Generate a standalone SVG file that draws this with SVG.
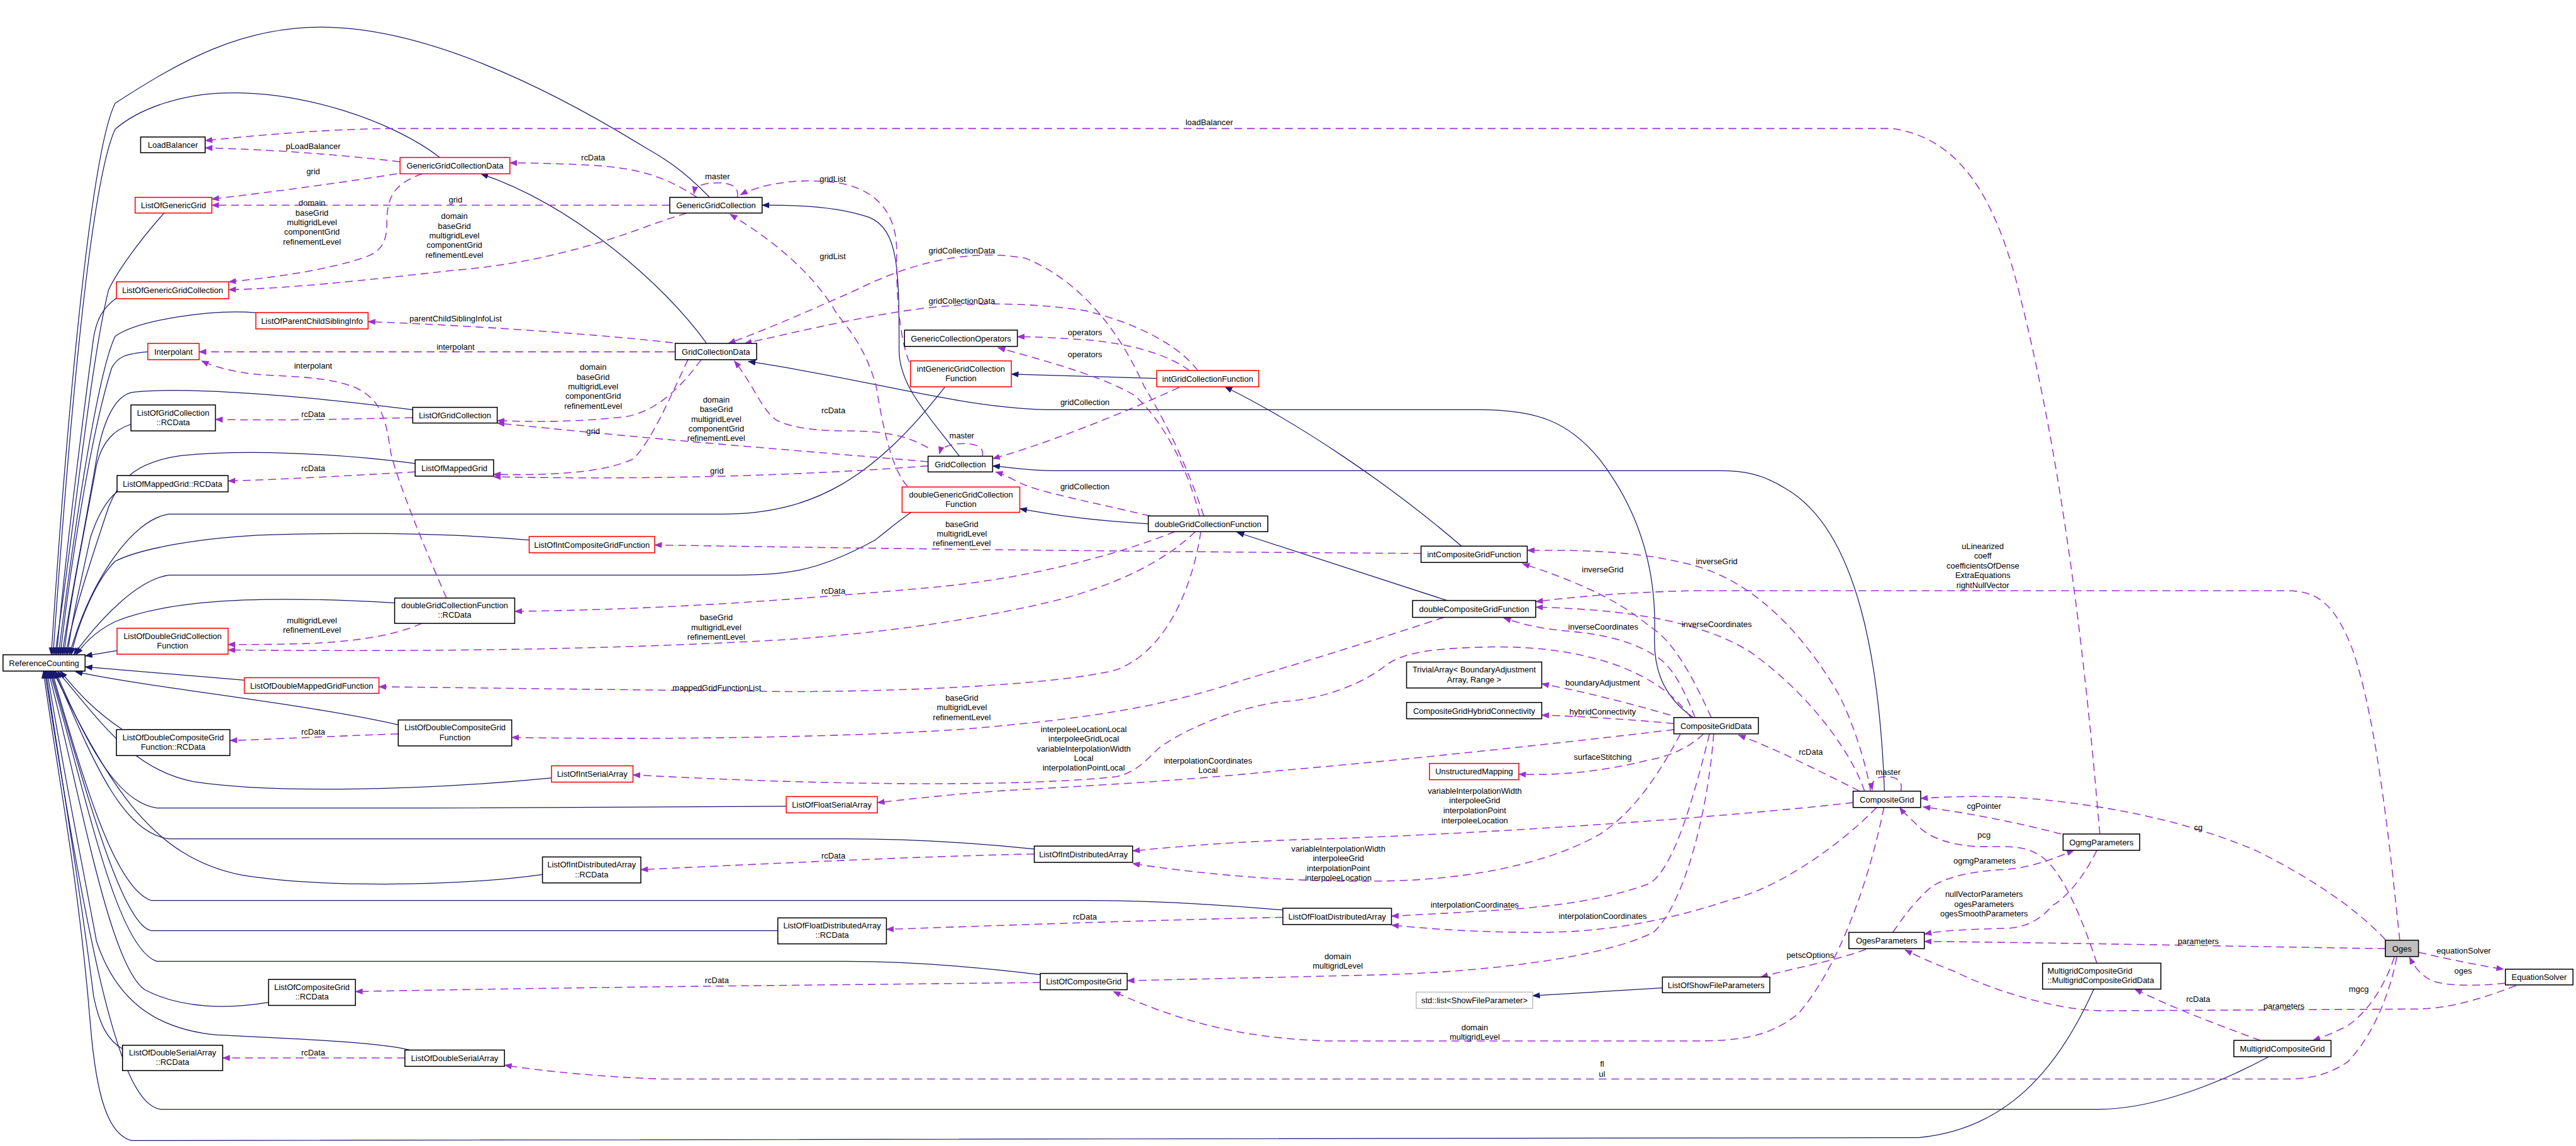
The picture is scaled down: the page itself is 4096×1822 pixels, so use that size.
<svg xmlns="http://www.w3.org/2000/svg" width="4096" height="1822" viewBox="0 0 4096 1822">
<defs>
<marker id="an" markerWidth="13" markerHeight="10" refX="12" refY="5" orient="auto" markerUnits="userSpaceOnUse"><path d="M0,0 L13,5 L0,10 z" fill="#191970"/></marker>
<marker id="ap" markerWidth="13" markerHeight="10" refX="12" refY="5" orient="auto" markerUnits="userSpaceOnUse"><path d="M0,0 L13,5 L0,10 z" fill="#9a32cd"/></marker>
<style>
.n rect{fill:#fff;stroke:#000;stroke-width:1.6}
.r rect{stroke:#ff0000}
.gy rect{stroke:#bfbfbf}
.o rect{fill:#bfbfbf}
text{font-family:"Liberation Sans",Arial,sans-serif;font-size:13.5px;fill:#000}
.n text{text-anchor:middle}
.lab text{text-anchor:middle}
.e{fill:none;stroke:#191970;stroke-width:1.3;marker-end:url(#an)}
.d{fill:none;stroke:#9a32cd;stroke-width:1.6;stroke-dasharray:13,8;marker-end:url(#ap)}
</style>
</defs>
<rect width="4096" height="1822" fill="#fff"/>
<g transform="scale(0.95947)">
<g id="connectors">
<path class="e" d="M1176,327 C1130,280 1100,262 1070,245 C900,140 700,45 532,45 C400,45 300,100 191,171 C150,250 110,700 85,1085"/>
<path class="e" d="M729,261 C650,200 500,150 372,154 C300,156 230,180 191,214 C150,300 115,700 88,1085"/>
<path class="e" d="M272,353 C230,400 195,449 180,480 C150,600 120,900 91,1085"/>
<path class="e" d="M193,494 C170,510 160,530 155,560 C130,750 105,950 94,1085"/>
<path class="e" d="M424,518 C350,512 230,530 191,557 C160,620 120,900 97,1085"/>
<path class="e" d="M245,583 C210,586 195,590 185,610 C150,720 115,950 100,1085"/>
<path class="e" d="M684,679 C500,655 300,640 220,650 C190,655 170,700 160,760 C140,880 115,1000 103,1085"/>
<path class="e" d="M217,703 C190,712 170,730 160,770 C140,880 115,1000 106,1085"/>
<path class="e" d="M688,768 C550,750 400,745 300,755 C230,765 200,790 180,840 C150,930 120,1020 109,1085"/>
<path class="e" d="M194,815 C175,830 160,860 150,890 C135,960 118,1030 112,1085"/>
<path class="e" d="M1566,641 C1450,790 1350,852 1196,852 L280,852 C220,860 150,960 115,1085"/>
<path class="e" d="M877,895 C750,884 600,882 450,886 C330,890 230,910 191,930 C160,960 130,1030 118,1085"/>
<path class="e" d="M1510,849 C1480,870 1470,880 1450,895 C1350,950 1300,953 1200,953 L280,953 C230,960 170,1020 122,1085"/>
<path class="e" d="M654,999 C500,990 300,985 191,1030 C160,1045 140,1065 126,1085"/>
<path class="e" d="M194,1078 L141,1087"/>
<path class="e" d="M405,1127 L141,1105"/>
<path class="e" d="M660,1201 C500,1165 250,1140 125,1113"/>
<path class="e" d="M203,1209 C160,1180 130,1150 100,1112"/>
<path class="e" d="M914,1289 C700,1310 450,1315 320,1295 C220,1275 170,1200 95,1112"/>
<path class="e" d="M1303,1336 L700,1339 L260,1339 C200,1330 150,1250 92,1112"/>
<path class="e" d="M1714,1407 C1600,1395 1500,1390 1400,1390 L280,1390 C200,1380 150,1250 90,1112"/>
<path class="e" d="M899,1449 C750,1470 520,1470 400,1450 C250,1420 180,1300 88,1112"/>
<path class="e" d="M2126,1508 C2000,1497 1900,1492 1800,1492 L250,1492 C190,1470 140,1300 86,1112"/>
<path class="e" d="M1289,1542 L250,1542 C200,1530 140,1300 84,1112"/>
<path class="e" d="M1724,1615 C1600,1600 1500,1593 1400,1593 L260,1593 C190,1570 140,1300 82,1112"/>
<path class="e" d="M445,1661 C380,1672 300,1672 240,1640 C180,1600 130,1300 80,1112"/>
<path class="e" d="M679,1740 C620,1725 450,1720 360,1715 C250,1705 190,1650 160,1560 C130,1400 100,1250 78,1112"/>
<path class="e" d="M203,1738 C180,1725 165,1700 155,1650 C130,1450 95,1250 76,1112"/>
<path class="e" d="M3760,1751 C3650,1810 3550,1838 3479,1838 L266,1838 C200,1830 150,1600 74,1112"/>
<path class="e" d="M3470,1639 C3420,1750 3340,1870 3180,1885 L218,1890 C180,1880 160,1820 150,1700 C130,1450 90,1250 72,1112"/>
<path class="e" d="M1590,756 C1540,690 1490,640 1490,580 C1490,450 1490,380 1440,360 C1380,340 1310,340 1263,340"/>
<path class="e" d="M1171,569 C1100,470 950,340 797,288"/>
<path class="e" d="M2806,1189 C2750,1150 2740,1100 2742,1050 C2745,950 2720,850 2650,760 C2600,700 2550,679 2450,679 L1750,679 C1600,679 1450,630 1240,599"/>
<path class="e" d="M3123,1311 C3115,1100 3080,880 2960,810 C2920,785 2890,780 2850,780 L1750,780 C1700,780 1680,775 1645,772"/>
<path class="e" d="M1917,627 L1676,620"/>
<path class="e" d="M1903,868 C1800,862 1740,852 1690,843"/>
<path class="e" d="M2422,905 C2300,800 2150,700 2030,641"/>
<path class="e" d="M2398,995 L2050,882"/>
<path class="e" d="M2755,1637 L2540,1650"/>
<path class="d" d="M663,268 C550,255 450,248 340,245"/>
<path class="d" d="M3480,1382 L3470,1270 C3440,950 3400,700 3350,500 C3310,330 3250,230 3137,213 L640,213 C520,215 420,225 340,233"/>
<path class="d" d="M658,288 C550,305 450,318 351,330"/>
<path class="d" d="M1110,340 L351,340"/>
<path class="d" d="M700,288 C650,305 641,330 641,370 C641,405 630,418 600,428 C530,450 450,460 379,467"/>
<path class="d" d="M1138,353 C1100,365 1080,372 1070,376 C950,420 850,440 751,448 C600,465 480,478 379,480"/>
<path class="d" d="M1155,327 C1100,290 1050,278 983,274 C930,271 880,270 845,270"/>
<path class="d" d="M1115,568 C1000,555 800,540 610,533"/>
<path class="d" d="M1119,583 L330,583"/>
<path class="d" d="M740,991 C700,900 660,800 648,752 C640,700 635,670 600,648 C570,630 520,625 450,622 C400,620 360,610 334,598"/>
<path class="d" d="M1222,327 C1225,308 1210,303 1190,303 C1165,303 1152,308 1150,321"/>
<path class="d" d="M1507,600 C1490,560 1485,480 1486,420 C1487,360 1460,320 1400,305 C1330,292 1260,305 1227,323"/>
<path class="d" d="M1504,806 C1480,780 1465,720 1452,640 C1430,560 1390,530 1381,510 C1330,430 1250,380 1210,355"/>
<path class="d" d="M1538,742 C1500,720 1460,714 1400,714 C1340,714 1300,705 1285,695 C1260,675 1250,640 1217,598"/>
<path class="d" d="M1985,614 C1960,580 1900,540 1800,515 C1700,500 1600,500 1500,515 C1400,530 1300,555 1234,569"/>
<path class="d" d="M1995,855 C1960,750 1920,680 1896,640 C1860,560 1800,470 1700,428 C1600,410 1500,440 1420,480 C1330,520 1260,550 1207,569"/>
<path class="d" d="M1971,614 C1940,590 1880,570 1800,563 C1750,560 1720,558 1686,558"/>
<path class="d" d="M1988,855 C1970,780 1930,700 1880,655 C1820,620 1720,595 1654,576"/>
<path class="d" d="M1628,756 C1632,740 1615,735 1599,735 C1575,735 1560,740 1557,752"/>
<path class="d" d="M1954,642 C1850,690 1720,740 1645,760"/>
<path class="d" d="M1906,855 C1800,830 1720,815 1690,800 C1670,790 1660,785 1650,782"/>
<path class="d" d="M1162,596 C1130,640 1090,680 1040,690 C960,700 880,699 824,697"/>
<path class="d" d="M1140,596 C1110,660 1080,730 1050,760 C1000,785 900,788 818,786"/>
<path class="d" d="M1538,765 C1300,745 1050,725 824,701"/>
<path class="d" d="M1538,772 C1300,790 1050,795 818,790"/>
<path class="d" d="M684,692 C550,695 450,697 357,695"/>
<path class="d" d="M688,782 C580,788 480,794 378,797"/>
<path class="d" d="M1947,881 C1850,920 1700,960 1538,974 C1300,995 1100,1010 853,1013"/>
<path class="d" d="M1981,881 C1930,930 1850,970 1742,997 C1600,1030 1450,1050 1300,1060 C1000,1077 700,1080 378,1077"/>
<path class="d" d="M699,1033 C650,1055 580,1063 520,1066 C460,1068 420,1068 378,1068"/>
<path class="d" d="M2355,917 C2000,915 1500,910 1085,903"/>
<path class="d" d="M1990,881 C1975,980 1930,1080 1850,1110 C1750,1135 1500,1146 1300,1146 L628,1138"/>
<path class="d" d="M2393,1023 C2250,1070 2150,1100 2050,1130 C1900,1180 1750,1195 1600,1208 C1400,1222 1100,1226 848,1222"/>
<path class="d" d="M2802,1189 C2740,1100 2600,1070 2470,1072 C2380,1074 2330,1080 2300,1100 C2250,1140 2180,1160 2120,1163 C2040,1175 1960,1210 1920,1240 C1895,1265 1880,1280 1850,1287 C1700,1303 1400,1303 1049,1284"/>
<path class="d" d="M2774,1209 C2600,1230 2300,1262 2130,1276 C2000,1290 1850,1300 1700,1308 C1600,1313 1500,1325 1454,1330"/>
<path class="d" d="M2836,1189 C2800,1110 2770,1060 2734,1038 C2700,1010 2650,975 2523,934"/>
<path class="d" d="M3100,1311 C3090,1250 3060,1170 3041,1140 C2980,1040 2900,960 2800,935 C2700,910 2600,912 2531,912"/>
<path class="d" d="M2809,1189 C2790,1140 2770,1100 2740,1085 C2700,1060 2650,1050 2590,1045 C2540,1040 2510,1030 2492,1024"/>
<path class="d" d="M3090,1311 C3070,1250 3000,1150 2900,1080 C2820,1030 2700,1010 2545,1006"/>
<path class="d" d="M3977,1558 C3960,1400 3940,1200 3900,1080 C3870,1000 3840,979 3791,979 L2800,979 C2680,982 2600,990 2545,997"/>
<path class="d" d="M2768,1185 C2700,1165 2620,1145 2555,1133"/>
<path class="d" d="M2774,1199 C2700,1192 2620,1187 2555,1185"/>
<path class="d" d="M2823,1216 C2800,1240 2760,1255 2734,1259 C2650,1280 2580,1285 2517,1283"/>
<path class="d" d="M2785,1216 C2740,1300 2700,1350 2652,1382 C2550,1440 2400,1460 2277,1460 C2150,1462 2000,1450 1877,1431"/>
<path class="d" d="M3071,1330 C2800,1360 2400,1385 2130,1392 C2000,1398 1930,1405 1877,1410"/>
<path class="d" d="M2833,1216 C2800,1350 2770,1440 2734,1464 C2650,1495 2550,1505 2450,1510 C2400,1513 2350,1516 2306,1518"/>
<path class="d" d="M3110,1338 C3050,1400 2950,1470 2871,1490 C2750,1530 2650,1545 2550,1545 C2450,1545 2380,1540 2306,1533"/>
<path class="d" d="M2840,1216 C2830,1350 2790,1500 2740,1545 C2650,1590 2450,1610 2300,1615 C2100,1620 1950,1623 1868,1625"/>
<path class="d" d="M3122,1338 C3100,1450 3050,1600 2980,1680 C2930,1720 2880,1725 2800,1725 L2200,1725 C2050,1720 1950,1690 1845,1643"/>
<path class="d" d="M3082,1311 C3000,1270 2940,1240 2881,1218"/>
<path class="d" d="M3150,1311 C3155,1292 3140,1287 3125,1287 C3108,1287 3100,1295 3103,1309"/>
<path class="d" d="M3953,1557 C3900,1500 3820,1450 3740,1410 C3600,1350 3450,1330 3350,1322 C3280,1318 3230,1320 3183,1323"/>
<path class="d" d="M3416,1382 C3350,1365 3280,1350 3187,1337"/>
<path class="d" d="M3475,1596 C3450,1520 3420,1450 3388,1423 C3360,1400 3330,1403 3290,1403 C3240,1403 3200,1390 3180,1370 C3165,1355 3155,1347 3148,1338"/>
<path class="d" d="M3137,1545 C3160,1510 3180,1488 3200,1470 C3230,1450 3280,1443 3319,1441 C3370,1438 3410,1420 3437,1409"/>
<path class="d" d="M3475,1409 C3450,1460 3420,1490 3402,1500 C3380,1525 3360,1535 3330,1538 C3270,1540 3220,1541 3189,1548"/>
<path class="d" d="M3953,1572 C3700,1568 3400,1562 3189,1560"/>
<path class="d" d="M4170,1633 C4100,1660 4050,1672 4000,1672 L3480,1675 C3400,1672 3300,1640 3240,1610 C3200,1595 3175,1583 3157,1574"/>
<path class="d" d="M4008,1578 C4060,1590 4110,1600 4149,1606"/>
<path class="d" d="M4152,1629 C4100,1635 4050,1633 4030,1625 C4010,1615 4000,1600 3993,1586"/>
<path class="d" d="M3968,1586 C3950,1640 3920,1680 3890,1700 C3860,1715 3845,1720 3833,1724"/>
<path class="d" d="M3746,1724 C3680,1700 3600,1670 3538,1639"/>
<path class="d" d="M3972,1586 C3960,1650 3930,1720 3890,1760 C3860,1780 3830,1788 3790,1788 L1100,1788 C1000,1785 900,1775 836,1765"/>
<path class="d" d="M3092,1573 C3050,1590 2970,1605 2918,1619"/>
<path class="d" d="M1714,1415 C1500,1420 1300,1430 1062,1441"/>
<path class="d" d="M2126,1520 C1900,1525 1700,1532 1469,1540"/>
<path class="d" d="M1724,1628 C1400,1632 1000,1635 589,1643"/>
<path class="d" d="M671,1753 L369,1753"/>
<path class="d" d="M660,1216 C550,1220 450,1225 381,1227"/>
</g>
<g id="labels" class="lab">
<text x="519" y="247">pLoadBalancer</text>
<text x="2004" y="207">loadBalancer</text>
<text x="519" y="289">grid</text>
<text x="755" y="336">grid</text>
<text x="517" y="341">domain<tspan x="517" dy="16">baseGrid</tspan><tspan x="517" dy="16">multigridLevel</tspan><tspan x="517" dy="16">componentGrid</tspan><tspan x="517" dy="16">refinementLevel</tspan></text>
<text x="753" y="363">domain<tspan x="753" dy="16">baseGrid</tspan><tspan x="753" dy="16">multigridLevel</tspan><tspan x="753" dy="16">componentGrid</tspan><tspan x="753" dy="16">refinementLevel</tspan></text>
<text x="983" y="266">rcData</text>
<text x="1189" y="297">master</text>
<text x="1380" y="301">gridList</text>
<text x="1380" y="429">gridList</text>
<text x="1594" y="420">gridCollectionData</text>
<text x="1594" y="503">gridCollectionData</text>
<text x="1798" y="556">operators</text>
<text x="1798" y="592">operators</text>
<text x="755" y="533">parentChildSiblingInfoList</text>
<text x="755" y="579">interpolant</text>
<text x="519" y="611">interpolant</text>
<text x="983" y="613">domain<tspan x="983" dy="16">baseGrid</tspan><tspan x="983" dy="16">multigridLevel</tspan><tspan x="983" dy="16">componentGrid</tspan><tspan x="983" dy="16">refinementLevel</tspan></text>
<text x="519" y="691">rcData</text>
<text x="983" y="719">grid</text>
<text x="519" y="781">rcData</text>
<text x="1187" y="667">domain<tspan x="1187" dy="16">baseGrid</tspan><tspan x="1187" dy="16">multigridLevel</tspan><tspan x="1187" dy="16">componentGrid</tspan><tspan x="1187" dy="16">refinementLevel</tspan></text>
<text x="1381" y="685">rcData</text>
<text x="1798" y="671">gridCollection</text>
<text x="1594" y="726">master</text>
<text x="1188" y="785">grid</text>
<text x="1798" y="811">gridCollection</text>
<text x="1594" y="873">baseGrid<tspan x="1594" dy="16">multigridLevel</tspan><tspan x="1594" dy="16">refinementLevel</tspan></text>
<text x="1381" y="984">rcData</text>
<text x="1187" y="1028">baseGrid<tspan x="1187" dy="16">multigridLevel</tspan><tspan x="1187" dy="16">refinementLevel</tspan></text>
<text x="517" y="1033">multigridLevel<tspan x="517" dy="16">refinementLevel</tspan></text>
<text x="1188" y="1144">mappedGridFunctionList</text>
<text x="1594" y="1161">baseGrid<tspan x="1594" dy="16">multigridLevel</tspan><tspan x="1594" dy="16">refinementLevel</tspan></text>
<text x="519" y="1217">rcData</text>
<text x="1796" y="1213">interpoleeLocationLocal<tspan x="1796" dy="16">interpoleeGridLocal</tspan><tspan x="1796" dy="16">variableInterpolationWidth</tspan><tspan x="1796" dy="16">Local</tspan><tspan x="1796" dy="16">interpolationPointLocal</tspan></text>
<text x="2002" y="1265">interpolationCoordinates<tspan x="2002" dy="16">Local</tspan></text>
<text x="2845" y="935">inverseGrid</text>
<text x="2656" y="948">inverseGrid</text>
<text x="2657" y="1043">inverseCoordinates</text>
<text x="2845" y="1039">inverseCoordinates</text>
<text x="2656" y="1136">boundaryAdjustment</text>
<text x="2656" y="1184">hybridConnectivity</text>
<text x="3001" y="1251">rcData</text>
<text x="2656" y="1259">surfaceStitching</text>
<text x="3286" y="910">uLinearized<tspan x="3286" dy="16">coeff</tspan><tspan x="3286" dy="16">coefficientsOfDense</tspan><tspan x="3286" dy="16">ExtraEquations</tspan><tspan x="3286" dy="16">rightNullVector</tspan></text>
<text x="3129" y="1284">master</text>
<text x="2444" y="1315">variableInterpolationWidth<tspan x="2444" dy="16.3">interpoleeGrid</tspan><tspan x="2444" dy="16.3">interpolationPoint</tspan><tspan x="2444" dy="16.3">interpoleeLocation</tspan></text>
<text x="2218" y="1411">variableInterpolationWidth<tspan x="2218" dy="16">interpoleeGrid</tspan><tspan x="2218" dy="16">interpolationPoint</tspan><tspan x="2218" dy="16">interpoleeLocation</tspan></text>
<text x="2444" y="1504">interpolationCoordinates</text>
<text x="2656" y="1523">interpolationCoordinates</text>
<text x="2217" y="1589">domain<tspan x="2217" dy="16">multigridLevel</tspan></text>
<text x="3000" y="1587">petscOptions</text>
<text x="2444" y="1707">domain<tspan x="2444" dy="16">multigridLevel</tspan></text>
<text x="2655" y="1768">fl<tspan x="2655" dy="16">ul</tspan></text>
<text x="1381" y="1423">rcData</text>
<text x="1798" y="1524">rcData</text>
<text x="1188" y="1629">rcData</text>
<text x="519" y="1749">rcData</text>
<text x="3288" y="1340">cgPointer</text>
<text x="3288" y="1388">pcg</text>
<text x="3643" y="1376">cg</text>
<text x="3289" y="1431">ogmgParameters</text>
<text x="3288" y="1486">nullVectorParameters<tspan x="3288" dy="16.5">ogesParameters</tspan><tspan x="3288" dy="16.5">ogesSmoothParameters</tspan></text>
<text x="3643" y="1564">parameters</text>
<text x="4083" y="1580">equationSolver</text>
<text x="4082" y="1613">oges</text>
<text x="3909" y="1644">mgcg</text>
<text x="3643" y="1660">rcData</text>
<text x="3785" y="1672">parameters</text>
</g>
<g id="n-LoadBalancer" class="n"><rect x="233" y="227" width="107" height="26"/><text x="286.5" y="245">LoadBalancer</text></g>
<g id="n-GenericGridCollectionData" class="n r"><rect x="663" y="261" width="182" height="27"/><text x="754" y="279.5">GenericGridCollectionData</text></g>
<g id="n-ListOfGenericGrid" class="n r"><rect x="224" y="327" width="127" height="26"/><text x="287.5" y="345">ListOfGenericGrid</text></g>
<g id="n-GenericGridCollection" class="n"><rect x="1110" y="327" width="153" height="26"/><text x="1186.5" y="345">GenericGridCollection</text></g>
<g id="n-ListOfGenericGridCollection" class="n r"><rect x="193" y="467" width="186" height="28"/><text x="286" y="486">ListOfGenericGridCollection</text></g>
<g id="n-ListOfParentChildSiblingInfo" class="n r"><rect x="424" y="518" width="186" height="27"/><text x="517" y="536.5">ListOfParentChildSiblingInfo</text></g>
<g id="n-GenericCollectionOperators" class="n"><rect x="1499" y="547" width="187" height="27"/><text x="1592.5" y="565.5">GenericCollectionOperators</text></g>
<g id="n-Interpolant" class="n r"><rect x="245" y="569" width="85" height="27"/><text x="287.5" y="587.5">Interpolant</text></g>
<g id="n-GridCollectionData" class="n"><rect x="1119" y="569" width="135" height="27"/><text x="1186.5" y="587.5">GridCollectionData</text></g>
<g id="n-intGenericGridCollectionFunction" class="n r"><rect x="1509" y="598" width="167" height="43"/><text x="1592.5" y="615.5">intGenericGridCollection</text><text x="1592.5" y="631.5">Function</text></g>
<g id="n-intGridCollectionFunction" class="n r"><rect x="1917" y="614" width="169" height="27"/><text x="2001.5" y="632.5">intGridCollectionFunction</text></g>
<g id="n-ListOfGridCollection-RCData" class="n"><rect x="217" y="671" width="140" height="43"/><text x="287" y="688.5">ListOfGridCollection</text><text x="287" y="704.5">::RCData</text></g>
<g id="n-ListOfGridCollection" class="n"><rect x="684" y="675" width="140" height="26"/><text x="754" y="693">ListOfGridCollection</text></g>
<g id="n-GridCollection" class="n"><rect x="1538" y="756" width="107" height="26"/><text x="1591.5" y="774">GridCollection</text></g>
<g id="n-ListOfMappedGrid" class="n"><rect x="688" y="762" width="130" height="27"/><text x="753" y="780.5">ListOfMappedGrid</text></g>
<g id="n-ListOfMappedGrid-RCData" class="n"><rect x="194" y="788" width="184" height="27"/><text x="286" y="806.5">ListOfMappedGrid::RCData</text></g>
<g id="n-doubleGenericGridCollectionFunction" class="n r"><rect x="1495" y="807" width="195" height="42"/><text x="1592.5" y="824">doubleGenericGridCollection</text><text x="1592.5" y="840">Function</text></g>
<g id="n-doubleGridCollectionFunction" class="n"><rect x="1903" y="855" width="198" height="26"/><text x="2002" y="873">doubleGridCollectionFunction</text></g>
<g id="n-ListOfIntCompositeGridFunction" class="n r"><rect x="877" y="889" width="208" height="27"/><text x="981" y="907.5">ListOfIntCompositeGridFunction</text></g>
<g id="n-intCompositeGridFunction" class="n"><rect x="2355" y="905" width="176" height="27"/><text x="2443" y="923.5">intCompositeGridFunction</text></g>
<g id="n-doubleGridCollectionFunction-RCData" class="n"><rect x="654" y="991" width="199" height="42"/><text x="753.5" y="1008">doubleGridCollectionFunction</text><text x="753.5" y="1024">::RCData</text></g>
<g id="n-doubleCompositeGridFunction" class="n"><rect x="2341" y="995" width="204" height="28"/><text x="2443" y="1014">doubleCompositeGridFunction</text></g>
<g id="n-ListOfDoubleGridCollectionFunction" class="n r"><rect x="194" y="1041" width="184" height="43"/><text x="286" y="1058.5">ListOfDoubleGridCollection</text><text x="286" y="1074.5">Function</text></g>
<g id="n-ReferenceCounting" class="n"><rect x="5" y="1085" width="136" height="27"/><text x="73" y="1103.5">ReferenceCounting</text></g>
<g id="n-TrivialArray" class="n"><rect x="2331" y="1097" width="224" height="43"/><text x="2443" y="1114.5">TrivialArray&lt; BoundaryAdjustment</text><text x="2443" y="1130.5">Array, Range &gt;</text></g>
<g id="n-ListOfDoubleMappedGridFunction" class="n r"><rect x="405" y="1123" width="223" height="26"/><text x="516.5" y="1141">ListOfDoubleMappedGridFunction</text></g>
<g id="n-CompositeGridHybridConnectivity" class="n"><rect x="2331" y="1164" width="224" height="27"/><text x="2443" y="1182.5">CompositeGridHybridConnectivity</text></g>
<g id="n-CompositeGridData" class="n"><rect x="2774" y="1189" width="140" height="27"/><text x="2844" y="1207.5">CompositeGridData</text></g>
<g id="n-ListOfDoubleCompositeGridFunction" class="n"><rect x="660" y="1193" width="188" height="43"/><text x="754" y="1210.5">ListOfDoubleCompositeGrid</text><text x="754" y="1226.5">Function</text></g>
<g id="n-ListOfDoubleCompositeGridFunction-RCData" class="n"><rect x="193" y="1209" width="188" height="43"/><text x="287" y="1226.5">ListOfDoubleCompositeGrid</text><text x="287" y="1242.5">Function::RCData</text></g>
<g id="n-UnstructuredMapping" class="n r"><rect x="2369" y="1265" width="148" height="27"/><text x="2443" y="1283.5">UnstructuredMapping</text></g>
<g id="n-ListOfIntSerialArray" class="n r"><rect x="914" y="1269" width="135" height="27"/><text x="981.5" y="1287.5">ListOfIntSerialArray</text></g>
<g id="n-CompositeGrid" class="n"><rect x="3071" y="1311" width="112" height="27"/><text x="3127" y="1329.5">CompositeGrid</text></g>
<g id="n-ListOfFloatSerialArray" class="n r"><rect x="1303" y="1320" width="151" height="27"/><text x="1378.5" y="1338.5">ListOfFloatSerialArray</text></g>
<g id="n-OgmgParameters" class="n"><rect x="3419" y="1382" width="127" height="27"/><text x="3482.5" y="1400.5">OgmgParameters</text></g>
<g id="n-ListOfIntDistributedArray" class="n"><rect x="1714" y="1402" width="163" height="27"/><text x="1795.5" y="1420.5">ListOfIntDistributedArray</text></g>
<g id="n-ListOfIntDistributedArray-RCData" class="n"><rect x="899" y="1420" width="163" height="43"/><text x="980.5" y="1437.5">ListOfIntDistributedArray</text><text x="980.5" y="1453.5">::RCData</text></g>
<g id="n-ListOfFloatDistributedArray" class="n"><rect x="2126" y="1505" width="180" height="27"/><text x="2216" y="1523.5">ListOfFloatDistributedArray</text></g>
<g id="n-ListOfFloatDistributedArray-RCData" class="n"><rect x="1289" y="1521" width="180" height="43"/><text x="1379" y="1538.5">ListOfFloatDistributedArray</text><text x="1379" y="1554.5">::RCData</text></g>
<g id="n-OgesParameters" class="n"><rect x="3064" y="1545" width="125" height="27"/><text x="3126.5" y="1563.5">OgesParameters</text></g>
<g id="n-Oges" class="n o"><rect x="3953" y="1558" width="55" height="27"/><text x="3980.5" y="1576.5">Oges</text></g>
<g id="n-MultigridCompositeGridData" class="n"><rect x="3385" y="1596" width="196" height="43"/><text x="3393" y="1613.5" style="text-anchor:start">MultigridCompositeGrid</text><text x="3393" y="1629.5" style="text-anchor:start">::MultigridCompositeGridData</text></g>
<g id="n-EquationSolver" class="n"><rect x="4152" y="1606" width="112" height="26"/><text x="4208" y="1624">EquationSolver</text></g>
<g id="n-ListOfCompositeGrid" class="n"><rect x="1724" y="1613" width="144" height="27"/><text x="1796" y="1631.5">ListOfCompositeGrid</text></g>
<g id="n-ListOfShowFileParameters" class="n"><rect x="2755" y="1619" width="178" height="26"/><text x="2844" y="1637">ListOfShowFileParameters</text></g>
<g id="n-ListOfCompositeGrid-RCData" class="n"><rect x="445" y="1623" width="144" height="43"/><text x="517" y="1640.5">ListOfCompositeGrid</text><text x="517" y="1656.5">::RCData</text></g>
<g id="n-stdlistShowFileParameter" class="n gy"><rect x="2347" y="1644" width="193" height="27"/><text x="2443.5" y="1662.5">std::list&lt;ShowFileParameter&gt;</text></g>
<g id="n-MultigridCompositeGrid" class="n"><rect x="3702" y="1724" width="161" height="27"/><text x="3782.5" y="1742.5">MultigridCompositeGrid</text></g>
<g id="n-ListOfDoubleSerialArray-RCData" class="n"><rect x="203" y="1732" width="166" height="42"/><text x="286" y="1749">ListOfDoubleSerialArray</text><text x="286" y="1765">::RCData</text></g>
<g id="n-ListOfDoubleSerialArray" class="n"><rect x="671" y="1740" width="165" height="27"/><text x="753.5" y="1758.5">ListOfDoubleSerialArray</text></g>
</g>
</svg>
